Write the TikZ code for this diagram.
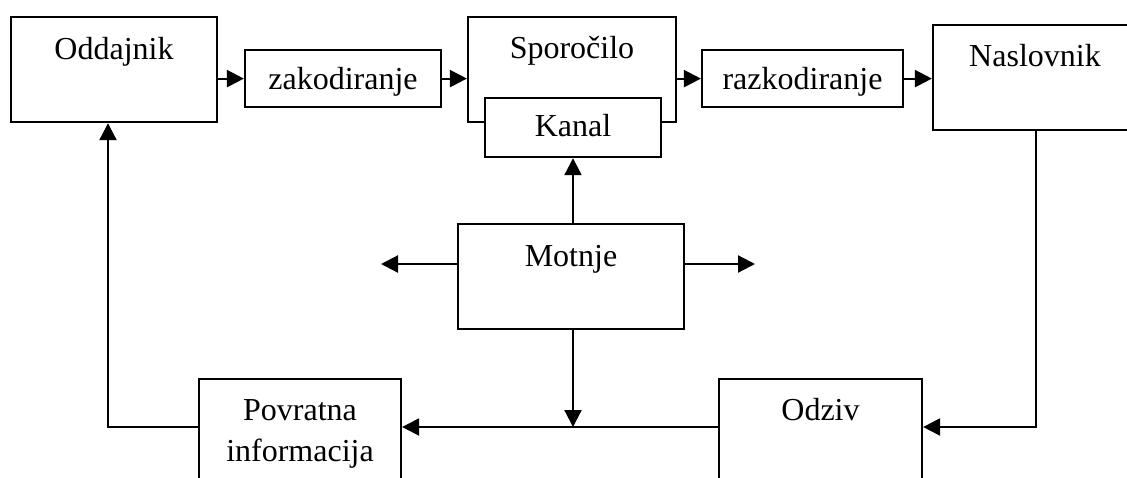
\documentclass[tikz,border=0pt]{standalone}
\usepackage{fontspec}
\setmainfont{Liberation Serif}
\usetikzlibrary{arrows.meta}
\tikzset{
	box/.style={draw, line width=1.1pt, fill=white, inner sep=0pt, anchor=north},
	arr/.style={line width=1.1pt, -{Triangle[length=8.5pt,width=8.5pt]}},
	ln/.style={line width=1.1pt}
}

\begin{document}
\begin{tikzpicture}[x=0.5pt, y=-0.5pt, font=\fontsize{16}{20.5}\selectfont]
			%%%%% START %%%%%
			\useasboundingbox (0,0) rectangle (1127,477);
			
			% upper row
			\node[box, minimum width=103pt, text height=21pt, text depth=31.5pt] (odd) at (114,16) {Oddajnik};
			\node[box, minimum width=98pt, text height=19.5pt, text depth=9pt] (zak) at (343,49) {zakodiranje};
			\node[box, minimum width=104pt, text height=20.5pt, text depth=32pt] (spor) at (572,16) {Sporočilo};
			\node[box, minimum width=88pt, text height=19pt, text depth=10.5pt] (kan) at (573,97) {Kanal};
			\node[box, minimum width=100.5pt, text height=19.5pt, text depth=9pt] (raz) at (802.5,49) {razkodiranje};
			\node[box, minimum width=102pt, text height=20.5pt, text depth=32pt] (nas) at (1035,24) {Naslovnik};
			
			% middle
			\node[box, minimum width=113pt, text height=21pt, text depth=31.5pt] (mot) at (571,223) {Motnje};
			
			% lower row
			\node[box, minimum width=101pt, text height=20.5pt, text depth=40pt] (pov) at (300,378) {\begin{tabular}[t]{c}Povratna\\informacija\end{tabular}};
			\node[box, minimum width=101.5pt, text height=20.5pt, text depth=40pt] (odz) at (820.5,378) {Odziv};
			
			\coordinate (ml) at (381,264);
			\coordinate (mr) at (755,264);
			\coordinate (fb) at (573,427);
			\coordinate (fl) at (108,427);
			\coordinate (fr) at (1036,427);
			
			\draw[arr] (odd.east |- zak.west) -- (zak.west);
			\draw[arr] (zak.east) -- (spor.west |- zak.east);
			\draw[arr] (spor.east |- raz.west) -- (raz.west);
			\draw[arr] (raz.east) -- (nas.west |- raz.east);
			
			\draw[arr] (mot.north -| kan.south) -- (kan.south);
			\draw[arr] (mot.west |- ml) -- (ml);
			\draw[arr] (mot.east |- mr) -- (mr);
			\draw[arr] (mot.south -| fb) -- (fb);
			
			\draw[arr] (fr |- nas.south) -- (fr) -- (odz.east |- fr);
			\draw[arr] (odz.west |- fb) -- (pov.east |- fb);
			\draw[arr] (pov.west |- fl) -- (fl) -- (fl |- odd.south);
			
			%%%%% END %%%%%
		\end{tikzpicture}
\end{document}
